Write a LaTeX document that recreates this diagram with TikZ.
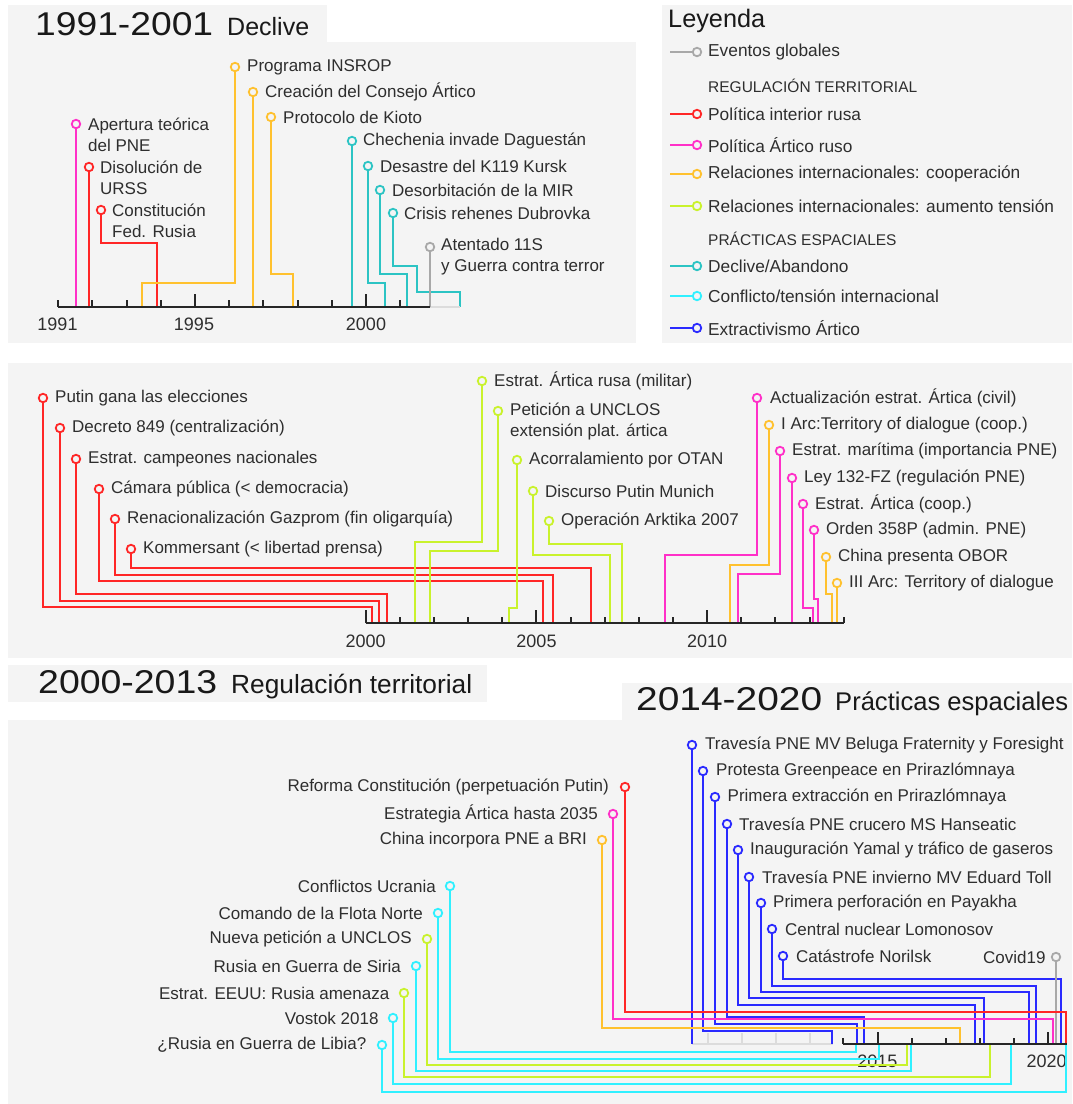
\documentclass[tikz,border=0pt]{standalone}
\usepackage{fontspec}
\usepackage{graphicx}
\setmainfont{Liberation Sans}
\definecolor{bgc}{HTML}{F4F4F4}
\definecolor{txt}{HTML}{2E2E2E}
\definecolor{cRed}{HTML}{FF2626}
\definecolor{cMag}{HTML}{FF30C8}
\definecolor{cOra}{HTML}{FFC12E}
\definecolor{cLim}{HTML}{C9F22C}
\definecolor{cTea}{HTML}{2CC4C4}
\definecolor{cCya}{HTML}{30F0FF}
\definecolor{cBlu}{HTML}{2A2AFF}
\definecolor{cGry}{HTML}{A8A8A8}
\definecolor{cLgt}{HTML}{DCDCDC}
\newcommand\mylabfont{\fontsize{17}{21}\selectfont}
\newcommand\mylegfont{\fontsize{17.3}{21}\selectfont}
\newcommand\myyearfont{\fontsize{18}{21}\selectfont}
\newcommand\myheadfont{\fontsize{15.5}{19}\selectfont}
\begin{document}
\begin{tikzpicture}[x=1pt,y=-1pt,
  lab/.style={anchor=west, inner sep=0pt, text=txt, font=\mylabfont, align=left},
  labr/.style={anchor=east, inner sep=0pt, text=txt, font=\mylabfont, align=right},
  leg/.style={anchor=west, inner sep=0pt, text=txt, font=\mylegfont},
  hdr/.style={anchor=west, inner sep=0pt, text=txt, font=\myheadfont},
  yr/.style={anchor=base, inner sep=0pt, text=txt, font=\myyearfont},
  ttl/.style={anchor=base west, inner sep=0pt, text=black!90},
  dot/.style={circle, draw=#1, fill=bgc, line width=1.8pt, minimum size=8.5pt, inner sep=0pt},
  ln/.style={draw=#1, line width=2pt},
  axisl/.style={draw=black!85, line width=2.4pt},
  tk/.style={draw=black!85, line width=2pt},
  lgt/.style={draw=cLgt, line width=2pt},
  panel/.style={fill=bgc, draw=none}]
\useasboundingbox (0,0) rectangle (1072,1104);
\fill[white] (0,0) rectangle (1072,1104);
% ---------- backgrounds
\path[panel] (8,5) rectangle (327,42);
\path[panel] (8,42) rectangle (636,343);
\path[panel] (662,5) rectangle (1072,343);
\path[panel] (8,363) rectangle (1072,658);
\path[panel] (8,665) rectangle (487,702);
\path[panel] (622,683) rectangle (1072,720);
\path[panel] (8,720) rectangle (1072,1104);
% ---------- titles
\node[ttl] (h1) at (35,35) {\resizebox{178pt}{23pt}{1991-2001}};
\node[ttl] (h1b) at (227,35) {\resizebox{82pt}{!}{Declive}};
\node[ttl] (h2) at (38,693) {\resizebox{179pt}{23pt}{2000-2013}};
\node[ttl] (h2b) at (231,693) {\resizebox{241pt}{!}{Regulación territorial}};
\node[ttl] (h3) at (636,710) {\resizebox{186pt}{23pt}{2014-2020}};
\node[ttl] (h3b) at (835,710) {\resizebox{233pt}{!}{Prácticas espaciales}};
\node[ttl] (h4) at (668,27) {\resizebox{97pt}{!}{Leyenda}};
% ---------- legend
\foreach \nm/\yy/\cc/\tt in {g1/52/cGry/Eventos globales, g2/114/cRed/Política interior rusa, g3/145/cMag/Política Ártico ruso, g4/174/cOra/{Relaciones internacionales: cooperación}, g5/206/cLim/{Relaciones internacionales: aumento tensión}, g6/266/cTea/Declive\slash Abandono, g7/296/cCya/Conflicto\slash tensión internacional, g8/328/cBlu/Extractivismo Ártico}{
  \node[dot=\cc] (\nm) at (697,\yy) {};
  \coordinate (\nm s) at (670,\yy);
  \draw[ln=\cc] (\nm s) -- (\nm.west);
  \node[leg] (\nm t) at (708,\yy) {\tt};
}
\node[hdr] (lh1) at (708,86) {REGULACIÓN TERRITORIAL};
\node[hdr] (lh2) at (708,238.5) {PRÁCTICAS ESPACIALES};
% ================= PANEL 1 =================
\foreach \i in {0,...,10}{\pgfmathsetmacro\xx{round(58.3+34.19*\i)}\draw[tk] (\xx,307) -- (\xx,300);}
\draw[tk] (195,307) -- (195,294);
\draw[tk] (366,307) -- (366,294);
\node[yr] (y91) at (57.5,330) {1991};
\node[yr] (y95) at (194,330) {1995};
\node[yr] (y00) at (366,330) {2000};
\coordinate (a1) at (76,307);
\coordinate (a2) at (89,307);
\coordinate (a3) at (157,307);
\coordinate (a4) at (142,307);
\coordinate (a5) at (253,307);
\coordinate (a6) at (293,307);
\coordinate (a7) at (352,307);
\coordinate (a8) at (385,307);
\coordinate (a9) at (407,307);
\coordinate (a10) at (460,307);
\coordinate (a11) at (430,307);
\node[dot=cMag] (p1) at (76,124) {};
\node[dot=cRed] (p2) at (89,167) {};
\node[dot=cRed] (p3) at (101,210) {};
\node[dot=cOra] (p4) at (235,67) {};
\node[dot=cOra] (p5) at (253,92) {};
\node[dot=cOra] (p6) at (271,117) {};
\node[dot=cTea] (p7) at (352,141) {};
\node[dot=cTea] (p8) at (368,166) {};
\node[dot=cTea] (p9) at (380,190) {};
\node[dot=cTea] (p10) at (393,213) {};
\node[dot=cGry] (p11) at (430,247) {};
\draw[ln=cMag] (p1.south) -- (a1);
\draw[ln=cRed] (p2.south) -- (a2);
\draw[ln=cRed] (p3.south) |- (157,243) -- (a3);
\draw[ln=cOra] (p4.south) |- (142,283) -- (a4);
\draw[ln=cOra] (p5.south) -- (a5);
\draw[ln=cOra] (p6.south) |- (293,274) -- (a6);
\draw[ln=cTea] (p7.south) -- (a7);
\draw[ln=cTea] (p8.south) |- (385,283) -- (a8);
\draw[ln=cTea] (p9.south) |- (407,274) -- (a9);
\draw[ln=cTea] (p10.south) |- (417,266) |- (460,292) -- (a10);
\draw[lgt] (a11) -- (a10);
\draw[ln=cGry] (p11.south) -- (a11);
\draw[axisl] (58,307) -- (a11);
\node[lab] (l1) at (88,134.5) {Apertura teórica\\del PNE};
\node[lab] (l2) at (100,177.5) {Disolución de\\URSS};
\node[lab] (l3) at (112,220.5) {Constitución\\Fed. Rusia};
\node[lab] (l4) at (247,67) {Programa INSROP};
\node[lab] (l5) at (265,92) {Creación del Consejo Ártico};
\node[lab] (l6) at (283,117) {Protocolo de Kioto};
\node[lab] (l7) at (363,141) {Chechenia invade Daguestán};
\node[lab] (l8) at (380,166) {Desastre del K119 Kursk};
\node[lab] (l9) at (392,190) {Desorbitación de la MIR};
\node[lab] (l10) at (404,213) {Crisis rehenes Dubrovka};
\node[lab] (l11) at (441,257) {Atentado 11S\\y Guerra contra terror};
% ================= PANEL 2 =================
\foreach \i in {0,...,14}{\pgfmathsetmacro\xx{round(365.7+34.15*\i)}\draw[tk] (\xx,623) -- (\xx,617);}
\foreach \xx in {366,536,707}{\draw[tk] (\xx,623) -- (\xx,610);}
\node[yr] (z00) at (365.7,647) {2000};
\node[yr] (z05) at (536.5,647) {2005};
\node[yr] (z10) at (707.2,647) {2010};
\foreach \n/\xx in {b1/372,b2/379,b3/387,b4/543,b5/553,b6/591,b7/415,b8/430,b9/509,b10/610,b11/622,b12/665,b13/730,b14/738,b15/792,b16/813,b17/818,b18/832,b19/837}{\coordinate (\n) at (\xx,623);}
\node[dot=cRed] (q1) at (43,398) {};
\node[dot=cRed] (q2) at (60,428) {};
\node[dot=cRed] (q3) at (76,459) {};
\node[dot=cRed] (q4) at (99,489) {};
\node[dot=cRed] (q5) at (115,519) {};
\node[dot=cRed] (q6) at (131,549) {};
\node[dot=cLim] (q7) at (482,381) {};
\node[dot=cLim] (q8) at (498,411) {};
\node[dot=cLim] (q9) at (517,460) {};
\node[dot=cLim] (q10) at (533,491) {};
\node[dot=cLim] (q11) at (549,521) {};
\node[dot=cMag] (q12) at (757,398) {};
\node[dot=cOra] (q13) at (769,425) {};
\node[dot=cMag] (q14) at (780,451) {};
\node[dot=cMag] (q15) at (792,478) {};
\node[dot=cMag] (q16) at (803,504) {};
\node[dot=cMag] (q17) at (814,530) {};
\node[dot=cOra] (q18) at (826,557) {};
\node[dot=cOra] (q19) at (837,583) {};
\draw[ln=cRed] (q1.south) |- (372,607) -- (b1);
\draw[ln=cRed] (q2.south) |- (379,601) -- (b2);
\draw[ln=cRed] (q3.south) |- (387,594) -- (b3);
\draw[ln=cRed] (q4.south) |- (543,581) -- (b4);
\draw[ln=cRed] (q5.south) |- (553,575) -- (b5);
\draw[ln=cRed] (q6.south) |- (591,568) -- (b6);
\draw[ln=cLim] (q7.south) |- (415,542) -- (b7);
\draw[ln=cLim] (q8.south) |- (430,551) -- (b8);
\draw[ln=cLim] (q9.south) |- (509,608) -- (b9);
\draw[ln=cLim] (q10.south) |- (610,555) -- (b10);
\draw[ln=cLim] (q11.south) |- (622,544) -- (b11);
\draw[ln=cMag] (q12.south) |- (665,555) -- (b12);
\draw[ln=cOra] (q13.south) |- (730,565) -- (b13);
\draw[ln=cMag] (q14.south) |- (738,574) -- (b14);
\draw[ln=cMag] (q15.south) -- (b15);
\draw[ln=cMag] (q16.south) |- (813,608) -- (b16);
\draw[ln=cMag] (q17.south) |- (818,599) -- (b17);
\draw[ln=cOra] (q18.south) |- (832,594) -- (b18);
\draw[ln=cOra] (q19.south) -- (b19);
\draw[axisl] (366,623) -- (844,623);
\node[lab] (m1) at (55,398) {Putin gana las elecciones};
\node[lab] (m2) at (72,428) {Decreto 849 (centralización)};
\node[lab] (m3) at (88,459) {Estrat. campeones nacionales};
\node[lab] (m4) at (111,489) {Cámara pública (< democracia)};
\node[lab] (m5) at (127,519) {Renacionalización Gazprom (fin oligarquía)};
\node[lab] (m6) at (143,549) {Kommersant (< libertad prensa)};
\node[lab] (m7) at (494,381) {Estrat. Ártica rusa (militar)};
\node[lab] (m8) at (510,421) {Petición a UNCLOS\\extensión plat. ártica};
\node[lab] (m9) at (529,460) {Acorralamiento por OTAN};
\node[lab] (m10) at (545,491) {Discurso Putin Munich};
\node[lab] (m11) at (561,521) {Operación Arktika 2007};
\node[lab] (m12) at (770,398) {Actualización estrat. Ártica (civil)};
\node[lab] (m13) at (781,425) {I Arc:Territory of dialogue (coop.)};
\node[lab] (m14) at (792,451) {Estrat. marítima (importancia PNE)};
\node[lab] (m15) at (804,478) {Ley 132-FZ (regulación PNE)};
\node[lab] (m16) at (815,504) {Estrat. Ártica (coop.)};
\node[lab] (m17) at (826,530) {Orden 358P (admin. PNE)};
\node[lab] (m18) at (838,557) {China presenta OBOR};
\node[lab] (m19) at (849,583) {III Arc: Territory of dialogue};
% ================= PANEL 3 =================
\node[yr] (w15) at (877.3,1067) {2015};
\node[yr] (w20) at (1046.7,1067) {2020};
\draw[lgt] (692,1044) -- (833,1044);
\foreach \xx in {708,742,776,810}{\draw[lgt] (\xx,1044) -- (\xx,1033);}
\foreach \i in {0,...,6}{\pgfmathsetmacro\xx{round(843.3+34.2*\i)}\draw[tk] (\xx,1044) -- (\xx,1038);}
\foreach \xx in {878,1048}{\draw[tk] (\xx,1044) -- (\xx,1032);}
\foreach \n/\xx in {c1/692,c2/832,c3/857,c4/864,c5/975,c6/984,c7/1029,c8/1036,c9/1061,c10/1056,d1/1066,d2/1053,d3/960,e1/856,e2/879,e3/907,e4/911,e5/990,e6/1011,e7/1066}{\coordinate (\n) at (\xx,1044);}
\node[dot=cBlu] (r1) at (692,745) {};
\node[dot=cBlu] (r2) at (703,771) {};
\node[dot=cBlu] (r3) at (715,797) {};
\node[dot=cBlu] (r4) at (727,824) {};
\node[dot=cBlu] (r5) at (738,850) {};
\node[dot=cBlu] (r6) at (749,877) {};
\node[dot=cBlu] (r7) at (761,903) {};
\node[dot=cBlu] (r8) at (772,929) {};
\node[dot=cBlu] (r9) at (783,956) {};
\node[dot=cGry] (r10) at (1056,957) {};
\node[dot=cRed] (s1) at (625,787) {};
\node[dot=cMag] (s2) at (613,814) {};
\node[dot=cOra] (s3) at (602,840) {};
\node[dot=cCya] (s4) at (450,886) {};
\node[dot=cCya] (s5) at (438,913) {};
\node[dot=cLim] (s6) at (427,939) {};
\node[dot=cCya] (s7) at (416,966) {};
\node[dot=cLim] (s8) at (404,993) {};
\node[dot=cCya] (s9) at (393,1018) {};
\node[dot=cCya] (s10) at (382,1045) {};
\draw[ln=cBlu] (r1.south) -- (c1);
\draw[ln=cBlu] (r2.south) |- (832,1031) -- (c2);
\draw[ln=cBlu] (r3.south) |- (857,1024) -- (c3);
\draw[ln=cBlu] (r4.south) |- (864,1017) -- (c4);
\draw[ln=cBlu] (r5.south) |- (975,1005) -- (c5);
\draw[ln=cBlu] (r6.south) |- (984,998) -- (c6);
\draw[ln=cBlu] (r7.south) |- (1029,992) -- (c7);
\draw[ln=cBlu] (r8.south) |- (1036,986) -- (c8);
\draw[ln=cBlu] (r9.south) |- (1061,979) -- (c9);
\draw[ln=cGry] (r10.south) -- (c10);
\draw[ln=cRed] (s1.south) |- (1066,1012) -- (d1);
\draw[ln=cMag] (s2.south) |- (1053,1019) -- (d2);
\draw[ln=cOra] (s3.south) |- (960,1028) -- (d3);
\draw[ln=cCya] (s4.south) |- (856,1052) -- (e1);
\draw[ln=cCya] (s5.south) |- (879,1059) -- (e2);
\draw[ln=cLim] (s6.south) |- (907,1065) -- (e3);
\draw[ln=cCya] (s7.south) |- (911,1071) -- (e4);
\draw[ln=cLim] (s8.south) |- (990,1077) -- (e5);
\draw[ln=cCya] (s9.south) |- (1011,1084) -- (e6);
\draw[ln=cCya] (s10.south) |- (1066,1092) -- (e7);
\draw[axisl] (843,1044) -- (1067,1044);
\node[lab] (n1) at (705,745) {Travesía PNE MV Beluga Fraternity y Foresight};
\node[lab] (n2) at (716,771) {Protesta Greenpeace en Prirazlómnaya};
\node[lab] (n3) at (727.5,797) {Primera extracción en Prirazlómnaya};
\node[lab] (n4) at (739,824) {Travesía PNE crucero MS Hanseatic};
\node[lab] (n5) at (750,850) {Inauguración Yamal y tráfico de gaseros};
\node[lab] (n6) at (762,877) {Travesía PNE invierno MV Eduard Toll};
\node[lab] (n7) at (773,903) {Primera perforación en Payakha};
\node[lab] (n8) at (785,929) {Central nuclear Lomonosov};
\node[lab] (n9) at (796,956) {Catástrofe Norilsk};
\node[labr] (n10) at (1045.7,957) {Covid19};
\node[labr] (o1) at (609,787) {Reforma Constitución (perpetuación Putin)};
\node[labr] (o2) at (598,814) {Estrategia Ártica hasta 2035};
\node[labr] (o3) at (587,840) {China incorpora PNE a BRI};
\node[labr] (o4) at (436,886) {Conflictos Ucrania};
\node[labr] (o5) at (423,913) {Comando de la Flota Norte};
\node[labr] (o6) at (412,939) {Nueva petición a UNCLOS};
\node[labr] (o7) at (401,966) {Rusia en Guerra de Siria};
\node[labr] (o8) at (389.5,993) {Estrat. EEUU: Rusia amenaza};
\node[labr] (o9) at (378.7,1018) {Vostok 2018};
\node[labr] (o10) at (366.5,1045) {¿Rusia en Guerra de Libia?};
\end{tikzpicture}
\end{document}
